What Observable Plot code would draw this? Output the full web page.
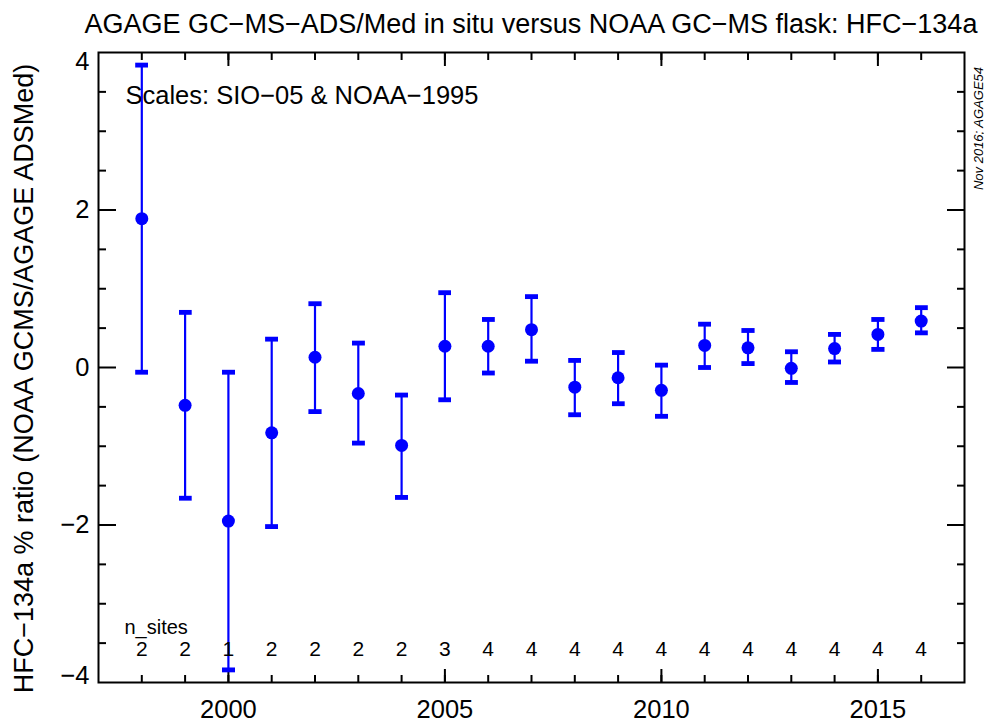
<!DOCTYPE html>
<html><head><meta charset="utf-8">
<script src="https://cdn.jsdelivr.net/npm/d3@7"></script>
<script src="https://cdn.jsdelivr.net/npm/@observablehq/plot@0.6"></script>
<style>
body{margin:0;background:#fff;font-family:"Liberation Sans",Arial,sans-serif;}
#wrap{position:relative;width:984px;height:726px;background:#fff;}
#title{position:absolute;left:78px;width:906px;top:4px;height:40px;line-height:40px;text-align:center;font-size:27px;white-space:nowrap;color:#000;}
#chart{position:absolute;left:0;top:40px;}
</style></head><body>
<div id="wrap"><div id="title"></div><div id="chart"></div></div>
<script>
const titleText = "AGAGE GC\u2212MS\u2212ADS/Med in situ versus NOAA GC\u2212MS flask: HFC\u2212134a";
const yLabel = "HFC\u2212134a % ratio (NOAA GCMS/AGAGE ADSMed)";
const scalesNote = "Scales: SIO\u221205 & NOAA\u22121995";
const sideNote = "Nov 2016; AGAGE54";
const nLabel = "n_sites";

const years  = [1998, 1999, 2000, 2001, 2002, 2003, 2004, 2005, 2006, 2007, 2008, 2009, 2010, 2011, 2012, 2013, 2014, 2015, 2016];
const ratio  = [1.89, -0.48, -1.95, -0.83, 0.13, -0.33, -0.99, 0.27, 0.27, 0.48, -0.25, -0.13, -0.29, 0.28, 0.25, -0.01, 0.24, 0.42, 0.59];
const upper  = [3.84, 0.70, -0.06, 0.36, 0.81, 0.31, -0.35, 0.95, 0.61, 0.90, 0.09, 0.19, 0.03, 0.55, 0.47, 0.20, 0.42, 0.61, 0.76];
const lower  = [-0.06, -1.66, -3.84, -2.02, -0.56, -0.96, -1.65, -0.41, -0.07, 0.08, -0.60, -0.46, -0.62, 0.00, 0.05, -0.19, 0.07, 0.23, 0.44];
const nSites = [2, 2, 1, 2, 2, 2, 2, 3, 4, 4, 4, 4, 4, 4, 4, 4, 4, 4, 4];

const xDomain = [1997, 2017];
const yDomain = [-4, 4];
const xMajorTicks = [2000, 2005, 2010, 2015];
const xMinorTicks = [1998, 1999, 2000, 2001, 2002, 2003, 2004, 2005, 2006, 2007, 2008, 2009, 2010, 2011, 2012, 2013, 2014, 2015, 2016];
const yTickLabels = [-4, -2, 0, 2, 4];
const yMinorTicks = [-3.5, -3, -2.5, -1.5, -1, -0.5, 0.5, 1, 1.5, 2.5, 3, 3.5];

document.getElementById("title").textContent = titleText;

const data = years.map((y, i) => ({year: y, ratio: ratio[i], lo: lower[i], hi: upper[i], n: nSites[i]}));
const blue = "#0000ff";
const font = "'Liberation Sans', Arial, sans-serif";
const blank = () => "";
const yInner = yTickLabels.filter(v => v > yDomain[0] && v < yDomain[1]);
const yTop = yTickLabels.filter(v => v === yDomain[1]);
const yBottom = yTickLabels.filter(v => v === yDomain[0]);

const chart = Plot.plot({
  width: 984,
  height: 686,
  marginTop: 12,
  marginBottom: 44,
  marginLeft: 98,
  marginRight: 20,
  x: {domain: xDomain, label: null},
  y: {domain: yDomain, label: null},
  style: {fontFamily: font, fontSize: "20px", color: "#000", background: "#fff", overflow: "visible"},
  marks: [
    // inward ticks
    Plot.axisX({anchor: "bottom", ticks: xMinorTicks, tickSize: -7, tickFormat: blank, strokeWidth: 2, label: null}),
    Plot.axisX({anchor: "bottom", ticks: xMajorTicks, tickSize: -13, tickFormat: blank, strokeWidth: 2, label: null}),
    Plot.axisX({anchor: "top", ticks: xMinorTicks, tickSize: -7, tickFormat: blank, strokeWidth: 2, label: null}),
    Plot.axisX({anchor: "top", ticks: xMajorTicks, tickSize: -13, tickFormat: blank, strokeWidth: 2, label: null}),
    Plot.axisY({anchor: "left", ticks: yMinorTicks, tickSize: -8, tickFormat: blank, strokeWidth: 2, label: null}),
    Plot.axisY({anchor: "left", ticks: yInner, tickSize: -18, tickFormat: blank, strokeWidth: 2, label: null}),
    Plot.axisY({anchor: "right", ticks: yMinorTicks, tickSize: -8, tickFormat: blank, strokeWidth: 2, label: null}),
    Plot.axisY({anchor: "right", ticks: yInner, tickSize: -18, tickFormat: blank, strokeWidth: 2, label: null}),
    // tick labels
    Plot.axisX({anchor: "bottom", ticks: xMajorTicks, tickSize: 0, tickPadding: 17, fontSize: 25.5, tickFormat: d => String(d), label: null}),
    Plot.axisY({anchor: "left", ticks: yInner, tickSize: 0, tickPadding: 9, fontSize: 25.5, label: null}),
    Plot.axisY({anchor: "left", ticks: yTop, tickSize: 0, tickPadding: 9, fontSize: 25.5, dy: 9, label: null}),
    Plot.axisY({anchor: "left", ticks: yBottom, tickSize: 0, tickPadding: 9, fontSize: 25.5, dy: -7, label: null}),
    Plot.frame({stroke: "#000", strokeWidth: 2}),
    // data
    Plot.link(data, {x1: "year", x2: "year", y1: "lo", y2: "hi", stroke: blue, strokeWidth: 2.2, marker: "tick"}),
    Plot.dot(data, {x: "year", y: "ratio", r: 6.5, fill: blue}),
    Plot.text(data, {x: "year", text: d => String(d.n), frameAnchor: "bottom", dy: -27, fontSize: 21}),
    // annotations
    Plot.text([nLabel], {text: d => d, frameAnchor: "bottom-left", dx: 26, dy: -49, textAnchor: "start", fontSize: 20}),
    Plot.text([scalesNote], {text: d => d, frameAnchor: "top-left", dx: 27, dy: 33, textAnchor: "start", fontSize: 25.5}),
    Plot.text([sideNote], {text: d => d, frameAnchor: "top-right", dx: 9, dy: 76, rotate: -90, textAnchor: "middle", fontStyle: "italic", fontSize: 13}),
    Plot.text([yLabel], {text: d => d, frameAnchor: "left", dx: -74, dy: 11, rotate: -90, textAnchor: "middle", fontSize: 27})
  ]
});
document.getElementById("chart").appendChild(chart);
</script>
</body></html>
